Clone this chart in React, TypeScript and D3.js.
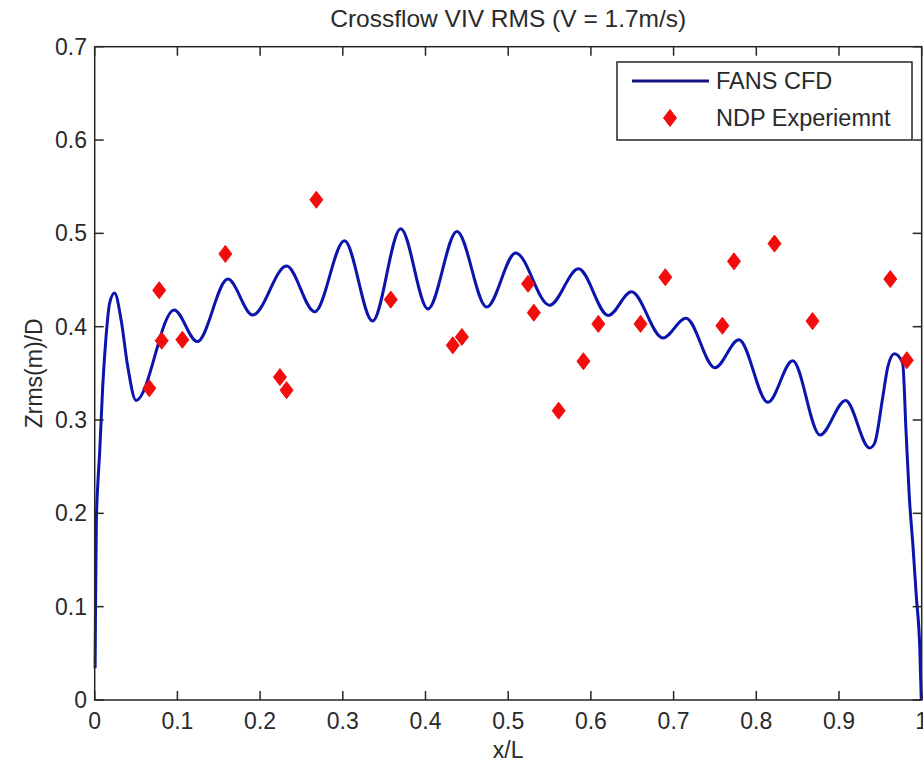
import React from "react";
import * as d3 from "d3";

const TITLE = "Crossflow VIV RMS (V = 1.7m/s)";
const X_LABEL = "x/L";
const Y_LABEL = "Zrms(m)/D";
const SERIES_NAMES = ["FANS CFD", "NDP Experiemnt"];

const xTicks = [0, 0.1, 0.2, 0.3, 0.4, 0.5, 0.6, 0.7, 0.8, 0.9, 1];
const yTicks = [0, 0.1, 0.2, 0.3, 0.4, 0.5, 0.6, 0.7];

// FANS CFD curve
const cfdX = [
  0.0005, 0.001, 0.002, 0.004, 0.006, 0.0097, 0.0137, 0.018, 0.024, 0.032, 0.04, 0.05,
  0.096, 0.124, 0.161, 0.191, 0.232, 0.266, 0.302, 0.336, 0.37, 0.403, 0.438, 0.474,
  0.509, 0.55, 0.585, 0.621, 0.649, 0.687, 0.715, 0.75, 0.779, 0.814, 0.844, 0.877,
  0.908, 0.937, 0.943, 0.953, 0.959, 0.967, 0.977, 0.981, 0.985, 0.9895, 0.9935, 0.9976, 0.9995,
];
const cfdY = [
  0.034, 0.1, 0.19, 0.235, 0.265, 0.336, 0.389, 0.425, 0.436, 0.407, 0.357, 0.321,
  0.418, 0.384, 0.451, 0.4125, 0.465, 0.416, 0.492, 0.406, 0.505, 0.419, 0.502, 0.421,
  0.479, 0.423, 0.462, 0.412, 0.4375, 0.388, 0.409, 0.356, 0.386, 0.319, 0.3635, 0.284,
  0.321, 0.27, 0.275, 0.325, 0.357, 0.371, 0.361, 0.289, 0.218, 0.164, 0.111, 0.057, 0.0,
];

// NDP experiment points
const expX = [
  0.066, 0.078, 0.081, 0.106, 0.158, 0.224, 0.232, 0.268, 0.358, 0.433, 0.444, 0.524,
  0.531, 0.561, 0.591, 0.609, 0.66, 0.69, 0.759, 0.773, 0.822, 0.868, 0.962, 0.982,
];
const expY = [
  0.334, 0.439, 0.385, 0.386, 0.478, 0.346, 0.332, 0.536, 0.429, 0.380, 0.389, 0.446,
  0.415, 0.310, 0.363, 0.403, 0.403, 0.453, 0.401, 0.470, 0.489, 0.406, 0.451, 0.364,
];

const W = 923;
const H = 767;
const M = { left: 94.7, right: 921.7, top: 46.7, bottom: 700 };
const FONT = "'Liberation Sans', Arial, Helvetica, sans-serif";
const LINE_COLOR = "#0b14ac";
const DOT_COLOR = "#f20d0d";
const AXIS_COLOR = "#262626";
const TEXT_COLOR = "#2a2a2a";

function diamond(cx: number, cy: number, w = 6.5, h = 8.5) {
  return `M${cx},${cy - h}L${cx + w},${cy}L${cx},${cy + h}L${cx - w},${cy}Z`;
}

export default function App() {
  const x = d3.scaleLinear().domain([0, 1]).range([M.left, M.right]);
  const y = d3.scaleLinear().domain([0, 0.7]).range([M.bottom, M.top]);
  const pts: [number, number][] = cfdX.map((v, i) => [v, cfdY[i]]);
  const line = d3
    .line<[number, number]>()
    .x((d) => x(d[0]))
    .y((d) => y(d[1]))
    .curve(d3.curveMonotoneX);
  const tl = 9;

  return (
    <div style={{ position: "fixed", left: 0, top: 0 }}>
      <svg width={W} height={H} style={{ display: "block", background: "#fff" }} fontFamily={FONT}>
        <rect x={0} y={0} width={W} height={H} fill="#fff" />
        <text x={(M.left + M.right) / 2} y={27} textAnchor="middle" fontSize={24.5} fill={TEXT_COLOR}>
          {TITLE}
        </text>
        {/* data */}
        <path d={line(pts) || ""} fill="none" stroke={LINE_COLOR} strokeWidth={3} strokeLinejoin="round" />
        {expX.map((v, i) => (
          <path key={i} d={diamond(x(v), y(expY[i]))} fill={DOT_COLOR} stroke={DOT_COLOR} strokeWidth={1} />
        ))}
        {/* axes box */}
        <rect
          x={M.left}
          y={M.top}
          width={M.right - M.left}
          height={M.bottom - M.top}
          fill="none"
          stroke={AXIS_COLOR}
          strokeWidth={1.5}
        />
        {xTicks.map((t) => (
          <g key={"x" + t}>
            <line x1={x(t)} x2={x(t)} y1={M.bottom} y2={M.bottom - tl} stroke={AXIS_COLOR} strokeWidth={1.5} />
            <line x1={x(t)} x2={x(t)} y1={M.top} y2={M.top + tl} stroke={AXIS_COLOR} strokeWidth={1.5} />
            <text x={x(t)} y={729} textAnchor="middle" fontSize={23} fill={TEXT_COLOR}>
              {String(t)}
            </text>
          </g>
        ))}
        {yTicks.map((t) => (
          <g key={"y" + t}>
            <line x1={M.left} x2={M.left + tl} y1={y(t)} y2={y(t)} stroke={AXIS_COLOR} strokeWidth={1.5} />
            <line x1={M.right} x2={M.right - tl} y1={y(t)} y2={y(t)} stroke={AXIS_COLOR} strokeWidth={1.5} />
            <text x={87} y={y(t)} dy="0.35em" textAnchor="end" fontSize={23} fill={TEXT_COLOR}>
              {String(t)}
            </text>
          </g>
        ))}
        <text x={(M.left + M.right) / 2} y={758} textAnchor="middle" fontSize={23} fill={TEXT_COLOR}>
          {X_LABEL}
        </text>
        <text
          transform={`translate(42,${(M.top + M.bottom) / 2}) rotate(-90)`}
          textAnchor="middle"
          fontSize={23}
          fill={TEXT_COLOR}
        >
          {Y_LABEL}
        </text>
        {/* legend */}
        <rect x={617} y={62} width={295} height={78} fill="#fff" stroke={AXIS_COLOR} strokeWidth={1.5} />
        <line x1={632} x2={709} y1={81} y2={81} stroke="#141480" strokeWidth={3} />
        <text x={716} y={89} fontSize={23.5} fill={TEXT_COLOR}>
          {SERIES_NAMES[0]}
        </text>
        <path d={diamond(670, 118)} fill={DOT_COLOR} stroke={DOT_COLOR} strokeWidth={1} />
        <text x={716} y={126} fontSize={23.5} fill={TEXT_COLOR}>
          {SERIES_NAMES[1]}
        </text>
      </svg>
    </div>
  );
}
